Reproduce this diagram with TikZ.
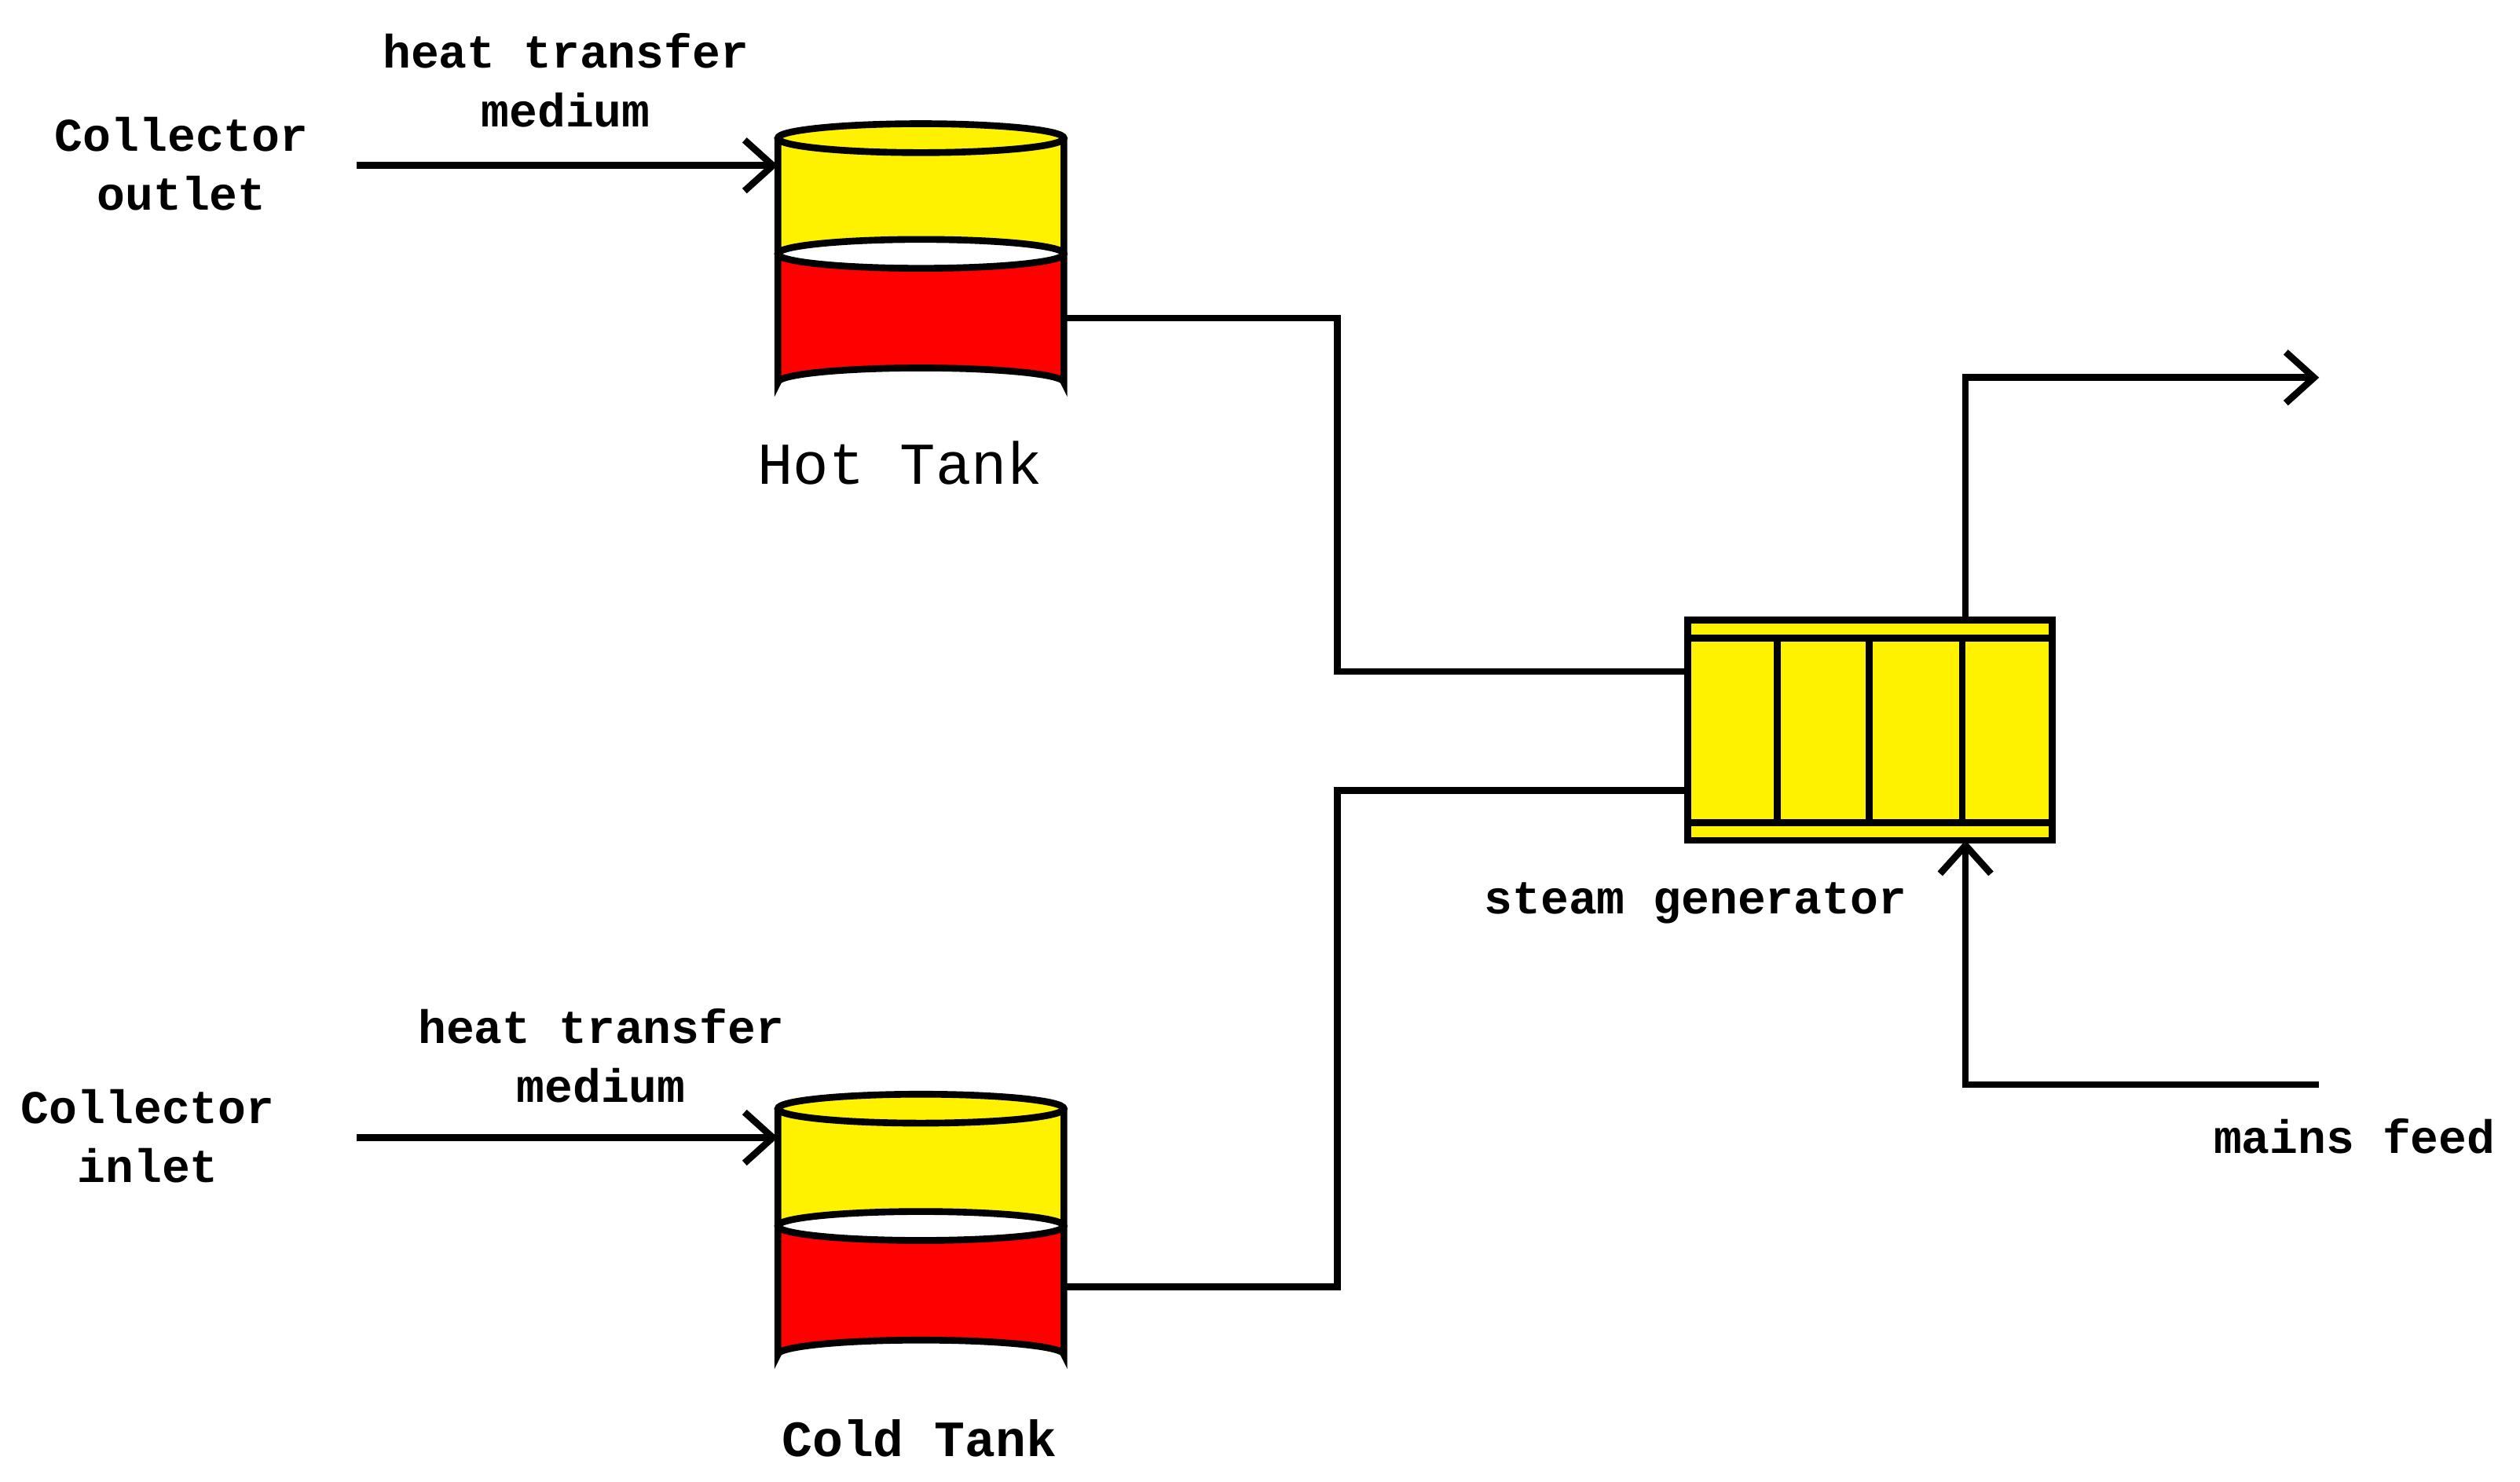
\documentclass[tikz,border=0pt]{standalone}
\usepackage{fontspec}
\setmainfont{Liberation Mono}
\usetikzlibrary{positioning,arrows.meta}
\begin{document}
\begin{tikzpicture}[x=0.01cm,y=-0.01cm]
	\tikzstyle{every node}=[align=center, font=\bfseries\fontsize{8.3}{10.5}\selectfont]
	\tikzstyle{pipe}=[line width=1.2pt]
	\tikzstyle{flow}=[pipe, -{Straight Barb[length=5pt,width=9pt]}]
	\useasboundingbox (0,0) rectangle (1568,922);
  % hot tank
  \fill [red] (484,158) -- (484,238) arc (180:360:89 and 9) -- (662,158) arc (0:180:89 and 9);
  \fill [yellow] (484,86) -- (484,158) arc (180:360:89 and 9) -- (662,86) arc (0:-180:89 and 9);
  \draw [pipe] (484,86) -- (484,238) arc (180:360:89 and 9) -- (662,86);
  \draw [pipe, fill=yellow] (573,86) ellipse (89 and 9);
  \draw [pipe] (573,158) ellipse (89 and 9);
  % cold tank
  \fill [red] (484,763) -- (484,843) arc (180:360:89 and 9) -- (662,763) arc (0:180:89 and 9);
  \fill [yellow] (484,690) -- (484,763) arc (180:360:89 and 9) -- (662,690) arc (0:-180:89 and 9);
  \draw [pipe] (484,690) -- (484,843) arc (180:360:89 and 9) -- (662,690);
  \draw [pipe, fill=yellow] (573,690) ellipse (89 and 9);
  \draw [pipe] (573,763) ellipse (89 and 9);
  % steam generator
  \draw [pipe, fill=yellow] (1050,386) rectangle (1277,523);
  \draw [pipe] (1050,397) -- (1277,397);
  \draw [pipe] (1050,512) -- (1277,512);
  \foreach \x in {1106,1163,1221}
    \draw [pipe] (\x,397) -- (\x,512);

  \coordinate (hotin) at (484,103);
  \coordinate (hotout) at (662,198);
  \coordinate (coldin) at (484,708);
  \coordinate (coldout) at (662,801);
  \coordinate (sghot) at (1050,418);
  \coordinate (sgcold) at (1050,492);
  \coordinate (sgtop) at (1223,386);
  \coordinate (sgbot) at (1223,523);
  \coordinate (steam) at (1443,235);
  \coordinate (feed) at (1443,675);

  \node (outlet) at (113,102) {Collector\\outlet};
  \node (inlet) at (92,707) {Collector\\inlet};
  \node (htm1) at (352,50) {heat transfer\\medium};
  \node (htm2) at (374,657) {heat transfer\\medium};
  \node [font=\fontsize{10.5}{12}\selectfont] (hot) at (560,288) {Hot Tank};
  \node [font=\bfseries\fontsize{9}{11}\selectfont] (cold) at (572,895) {Cold Tank};
  \node (sg) at (1055,562) {steam generator};
  \node (mains) at (1465,707) {mains feed};

  \draw [flow] (222,103) -- (hotin);
  \draw [flow] (222,708) -- (coldin);
  \draw [pipe] (hotout) -| (832,418) -- (sghot);
  \draw [pipe] (coldout) -| (832,492) -- (sgcold);
  \draw [flow] (sgtop) |- (steam);
  \draw [flow] (feed) -| (sgbot);
\end{tikzpicture}
\end{document}
